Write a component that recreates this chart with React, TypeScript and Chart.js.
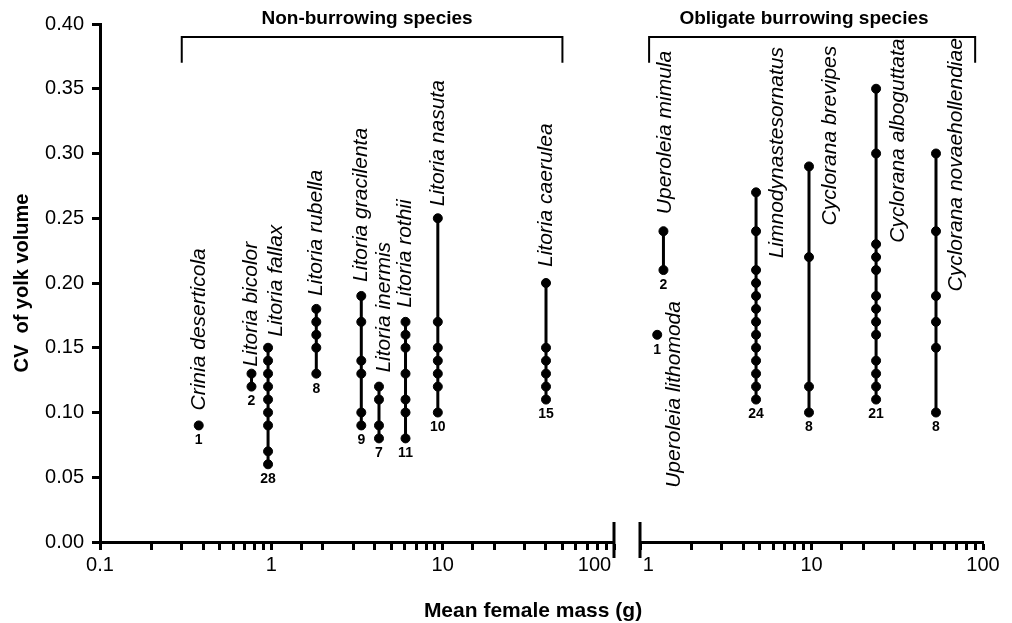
import React, { useEffect, useRef } from 'react';
import { Chart, registerables } from 'chart.js';

Chart.register(...registerables);

const FAMILY = '"Liberation Sans", Arial, Helvetica, sans-serif';

// ---------- data ----------
const nonBurrowingSpecies = [
  'Crinia deserticola',
  'Litoria bicolor',
  'Litoria fallax',
  'Litoria rubella',
  'Litoria gracilenta',
  'Litoria inermis',
  'Litoria rothii',
  'Litoria nasuta',
  'Litoria caerulea',
];
const nonBurrowingMass = [0.377, 0.766, 0.957, 1.83, 3.35, 4.25, 6.07, 9.37, 40.1];
const nonBurrowingCV = [
  [0.09],
  [0.13, 0.12],
  [0.15, 0.14, 0.13, 0.12, 0.11, 0.1, 0.09, 0.07, 0.06],
  [0.18, 0.17, 0.16, 0.15, 0.13],
  [0.19, 0.17, 0.14, 0.13, 0.1, 0.09],
  [0.12, 0.11, 0.09, 0.08],
  [0.17, 0.16, 0.15, 0.13, 0.11, 0.1, 0.08],
  [0.25, 0.17, 0.15, 0.14, 0.13, 0.12, 0.1],
  [0.2, 0.15, 0.14, 0.13, 0.12, 0.11],
];
const nonBurrowingN = [1, 2, 28, 8, 9, 7, 11, 10, 15];

const burrowingSpecies = [
  'Uperoleia lithomoda',
  'Uperoleia mimula',
  'Limnodynastesornatus',
  'Cyclorana brevipes',
  'Cyclorana alboguttata',
  'Cyclorana novaehollendiae',
];
const burrowingMass = [1.26, 1.37, 4.75, 9.67, 23.8, 53.2];
const burrowingCV = [
  [0.16],
  [0.24, 0.21],
  [0.27, 0.24, 0.21, 0.2, 0.19, 0.18, 0.17, 0.16, 0.15, 0.14, 0.13, 0.12, 0.11],
  [0.29, 0.22, 0.12, 0.1],
  [0.35, 0.3, 0.23, 0.22, 0.21, 0.19, 0.18, 0.17, 0.16, 0.14, 0.13, 0.12, 0.11],
  [0.3, 0.24, 0.19, 0.17, 0.15, 0.1],
];
const burrowingN = [1, 2, 24, 8, 21, 8];

const groupTitles = ['Non-burrowing species', 'Obligate burrowing species'];
const nonBurrowingBracketX = [0.3, 50];
const burrowingBracketX = [1.13, 90];
const bracketY = [0.37, 0.39];
const groupTitleX = [3.62, 9.04];

const yTickValues = [0, 0.05, 0.1, 0.15, 0.2, 0.25, 0.3, 0.35, 0.4];
const leftXRange = [0.1, 100];
const rightXRange = [1, 100];

// ---------- label layout (pixel offsets of species names from the top point) ----------
const nonBurrowingNameOffsets = [
  [0, -15], [0, -7], [8, -11], [0, -13], [0, -14], [5, -14], [0, -14], [0, -12], [0, -16],
];
const burrowingNameOffsets = [
  [17, 153], [2, -17], [21, 66], [21, 59], [22, 154], [20, 138],
];

function makeDatasets(mass: number[], cv: number[][], bx: number[]) {
  const ds: any[] = mass.map((m, i) => ({
    data: cv[i].map((v) => ({ x: m, y: v })),
    showLine: true,
    borderColor: '#000',
    borderWidth: 3,
    pointRadius: 4.5,
    pointBorderWidth: 1,
    pointBackgroundColor: '#000',
    pointBorderColor: '#000',
  }));
  ds.push({
    data: [
      { x: bx[0], y: bracketY[0] },
      { x: bx[0], y: bracketY[1] },
      { x: bx[1], y: bracketY[1] },
      { x: bx[1], y: bracketY[0] },
    ],
    showLine: true,
    borderColor: '#000',
    borderWidth: 2,
    pointRadius: 0,
  });
  return ds;
}

function annotatePlugin(cfg: any) {
  return {
    id: 'annot' + cfg.side,
    afterDraw(chart: any) {
      const { ctx } = chart;
      const x = chart.scales.x;
      const y = chart.scales.y;
      ctx.save();
      ctx.fillStyle = '#000';
      ctx.strokeStyle = '#000';
      cfg.species.forEach((name: string, i: number) => {
        const vals = cfg.cv[i];
        const px = x.getPixelForValue(cfg.mass[i]);
        const top = y.getPixelForValue(Math.max(...vals));
        const bot = y.getPixelForValue(Math.min(...vals));
        const [dx, dy] = cfg.offsets[i];
        ctx.save();
        ctx.translate(px + dx, top + dy);
        ctx.rotate(-Math.PI / 2);
        ctx.font = 'italic 21px ' + FAMILY;
        ctx.textAlign = 'left';
        ctx.textBaseline = 'middle';
        ctx.fillText(name, 0, 0);
        ctx.restore();
        ctx.font = 'bold 14px ' + FAMILY;
        ctx.textAlign = 'center';
        ctx.textBaseline = 'middle';
        ctx.fillText(String(cfg.n[i]), px, bot + 15);
      });
      // group title
      ctx.font = 'bold 19px ' + FAMILY;
      ctx.textAlign = 'center';
      ctx.textBaseline = 'middle';
      ctx.fillText(cfg.title, x.getPixelForValue(cfg.titleX), y.top - 5);
      // axis break mark
      ctx.lineWidth = 3;
      ctx.beginPath();
      const bxp = cfg.side === 'left' ? x.right : x.left;
      ctx.moveTo(bxp, y.bottom - 20);
      ctx.lineTo(bxp, y.bottom + 16);
      ctx.stroke();
      if (cfg.side === 'left') {
        ctx.font = 'bold 21px ' + FAMILY;
        ctx.textAlign = 'center';
        ctx.textBaseline = 'middle';
        ctx.fillText('Mean female mass (g)', 533, 611);
      }
      ctx.restore();
    },
  };
}

function decadeLabel(v: number, side: string) {
  const l = Math.log10(v);
  if (Math.abs(l - Math.round(l)) > 1e-6) return '';
  const s = v < 1 ? '0.1' : String(Math.round(v));
  if (side === 'left' && Math.round(v) === 100) return s + '       ';
  if (side === 'right' && Math.round(v) === 1) return '   ' + s;
  return s;
}

function xScale(range: number[], side: string) {
  return {
    type: 'logarithmic',
    min: range[0],
    max: range[1],
    afterFit: (s: any) => {
      s.height = 81;
    },
    ticks: {
      autoSkip: false,
      maxRotation: 0,
      minRotation: 0,
      color: '#000',
      padding: 3,
      font: { size: 20, family: FAMILY },
      callback: (v: any) => decadeLabel(Number(v), side),
    },
    grid: {
      drawOnChartArea: false,
      drawTicks: true,
      tickLength: 8,
      tickWidth: 3,
      tickColor: '#000',
    },
    border: { display: true, width: 3, color: '#000' },
  };
}

function yScale(show: boolean) {
  return {
    type: 'linear',
    display: show,
    min: yTickValues[0],
    max: yTickValues[yTickValues.length - 1],
    afterFit: (s: any) => {
      s.width = show ? 100 : 0;
    },
    afterBuildTicks: (s: any) => {
      s.ticks = yTickValues.map((v) => ({ value: v }));
    },
    ticks: {
      color: '#000',
      padding: 8,
      font: { size: 20, family: FAMILY },
      callback: (v: any) => Number(v).toFixed(2),
    },
    grid: {
      drawOnChartArea: false,
      drawTicks: true,
      tickLength: 8,
      tickWidth: 3,
      tickColor: '#000',
    },
    border: { display: true, width: 3, color: '#000' },
    title: {
      display: true,
      text: 'CV  of yolk volume',
      color: '#000',
      font: { size: 20, weight: 'bold', family: FAMILY },
      padding: { top: 10, bottom: 0 },
    },
  };
}

export default function App() {
  const leftRef = useRef<HTMLCanvasElement>(null);
  const rightRef = useRef<HTMLCanvasElement>(null);

  useEffect(() => {
    const common = {
      responsive: false,
      maintainAspectRatio: false,
      animation: false,
      devicePixelRatio: 1,
      plugins: { legend: { display: false }, tooltip: { enabled: false } },
    };
    const left = new Chart(leftRef.current!, {
      type: 'scatter',
      data: { datasets: makeDatasets(nonBurrowingMass, nonBurrowingCV, nonBurrowingBracketX) },
      options: {
        ...common,
        layout: { padding: { top: 24, left: 0, right: 46, bottom: 0 } },
        scales: { x: xScale(leftXRange, 'left'), y: yScale(true) },
      } as any,
      plugins: [
        annotatePlugin({
          side: 'left',
          species: nonBurrowingSpecies,
          mass: nonBurrowingMass,
          cv: nonBurrowingCV,
          n: nonBurrowingN,
          offsets: nonBurrowingNameOffsets,
          title: groupTitles[0],
          titleX: groupTitleX[0],
        }),
      ],
    });
    const right = new Chart(rightRef.current!, {
      type: 'scatter',
      data: { datasets: makeDatasets(burrowingMass, burrowingCV, burrowingBracketX) },
      options: {
        ...common,
        layout: { padding: { top: 24, left: 40, right: 29, bottom: 0 } },
        scales: { x: xScale(rightXRange, 'right'), y: yScale(false) },
      } as any,
      plugins: [
        annotatePlugin({
          side: 'right',
          species: burrowingSpecies,
          mass: burrowingMass,
          cv: burrowingCV,
          n: burrowingN,
          offsets: burrowingNameOffsets,
          title: groupTitles[1],
          titleX: groupTitleX[1],
        }),
      ],
    });
    return () => {
      left.destroy();
      right.destroy();
    };
  }, []);

  return (
    <div style={{ position: 'absolute', left: 0, top: 0, width: 1012, height: 623, background: '#fff', overflow: 'hidden' }}>
      <canvas ref={leftRef} width={660} height={623} style={{ position: 'absolute', left: 0, top: 0 }} />
      <canvas ref={rightRef} width={412} height={623} style={{ position: 'absolute', left: 600, top: 0 }} />
    </div>
  );
}
